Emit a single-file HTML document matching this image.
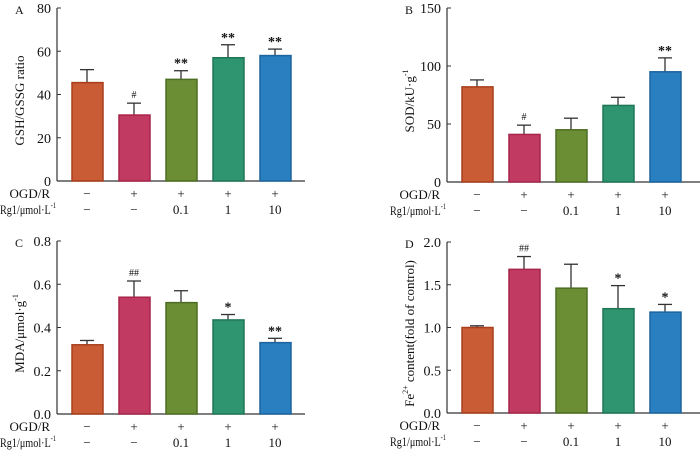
<!DOCTYPE html>
<html><head><meta charset="utf-8">
<style>
body{margin:0;background:#fff;}
svg text{font-family:"Liberation Serif",serif;fill:#111;}
</style></head>
<body>
<svg id="c" width="700" height="455" xmlns="http://www.w3.org/2000/svg"></svg>
<script>
const categories=["control","OGD/R","Rg1 0.1","Rg1 1","Rg1 10"];
const ogdLabels=["−","+","+","+","+"];
const rg1Labels=["−","−","0.1","1","10"];
const valuesA=[45.5,30.5,47,57,58];
const errorsA=[6,5.5,4,6,3];
const marksA=["","#","**","**","**"];
const ticksA=[0,20,40,60,80];
const valuesB=[82,41,45,66,95];
const errorsB=[6,8,10,7,12];
const marksB=["","#","","","**"];
const ticksB=[0,50,100,150];
const valuesC=[0.32,0.54,0.515,0.435,0.33];
const errorsC=[0.02,0.075,0.055,0.025,0.02];
const marksC=["","##","","*","**"];
const ticksC=["0.0","0.2","0.4","0.6","0.8"];
const valuesD=[1.0,1.68,1.46,1.22,1.18];
const errorsD=[0.02,0.15,0.28,0.27,0.09];
const marksD=["","##","","*","*"];
const ticksD=["0.0","0.5","1.0","1.5","2.0"];
const fills=["#c95c35","#c13a62","#6b8e35","#2f9571","#2a7fc0"];
const strokes=["#a83e1c","#a8244a","#4d6e22","#1f7656","#1d649e"];
const NS="http://www.w3.org/2000/svg";
const svg=document.getElementById('c');
function mk(tag,attrs,parent,txt){const e=document.createElementNS(NS,tag);for(const k in attrs)e.setAttribute(k,attrs[k]);if(txt!==undefined)e.textContent=txt;(parent||svg).appendChild(e);return e;}
function panel(o){
  const g=mk('g',{});
  
  
  const max=parseFloat(o.ticks[o.ticks.length-1]);
  const y=v=>o.y0-(v/max)*(o.y0-o.yTop);
  const x=i=>o.ax+30+i*47;
  const lt=mk('text',{x:o.ax-42,y:o.yTop+6,'font-size':12},g,o.id);
  
  
  const ya=mk('line',{x1:o.ax,y1:o.yTop,x2:o.ax,y2:o.y0,stroke:'#333','stroke-width':1.2},g);
  
  
  const xa=mk('line',{x1:o.ax,y1:o.y0,x2:o.xEnd,y2:o.y0,stroke:'#333','stroke-width':1.2},g);
  
  
  o.ticks.forEach(t=>{
    const yy=y(parseFloat(t));
    mk('line',{x1:o.ax,y1:yy,x2:o.ax+4,y2:yy,stroke:'#333'},g);
    const tl=mk('text',{x:o.ax-6,y:yy+5,'font-size':14,'text-anchor':'end'},g,t);
    
    
  });
  const tt=mk('text',{transform:`translate(${o.ax-33},${(o.yTop+o.y0)/2+6}) rotate(-90)`,'font-size':13,'text-anchor':'middle'},g);
  tt.innerHTML=o.title;
  
  
  o.values.forEach((v,i)=>{
    const cx=x(i),top=y(v),et=y(v+o.errors[i]);
    mk('line',{x1:cx,y1:top,x2:cx,y2:et,stroke:'#333','stroke-width':1.3},g);
    mk('line',{x1:cx-7,y1:et,x2:cx+7,y2:et,stroke:'#333','stroke-width':1.3},g);
    const r=mk('rect',{x:cx-15,y:top,width:31,height:o.y0-top,fill:fills[i],stroke:strokes[i],'stroke-width':1.5},g);
    
    
    if(o.marks[i]){
      const isHash=o.marks[i][0]==='#';
      const m=mk('text',{x:cx,y:et-(isHash?5:3),'font-size':isHash?10:14,'text-anchor':'middle','font-weight':isHash?'normal':'bold',fill:isHash?'#666':'#222'},g,o.marks[i]);
      
      
    }
    const a=mk('text',{x:cx,y:o.y0+17,'font-size':13,'text-anchor':'middle'},g,ogdLabels[i]);
    
    
    const b=mk('text',{x:cx,y:o.y0+33,'font-size':13,'text-anchor':'middle'},g,rg1Labels[i]);
    
    
  });
  const r1=mk('text',{x:o.ax-7,y:o.y0+17,'font-size':13,'text-anchor':'end'},g,'OGD/R');
  
  
  const r2=mk('text',{x:o.ax-57,y:o.y0+33,'font-size':13,textLength:56,lengthAdjust:'spacingAndGlyphs'},g);
  r2.innerHTML='Rg1/μmol·L<tspan dy="-6" font-size="8">-1</tspan>';
  
  
}
panel({id:'A',ax:57,yTop:8,y0:181,xEnd:305,values:valuesA,errors:errorsA,marks:marksA,ticks:ticksA,title:'GSH/GSSG ratio'});
panel({id:'B',ax:447,yTop:8,y0:182,xEnd:700,values:valuesB,errors:errorsB,marks:marksB,ticks:ticksB,title:'SOD/kU·g<tspan dy="-6" font-size="8">-1</tspan>'});
panel({id:'C',ax:57,yTop:241,y0:414,xEnd:305,values:valuesC,errors:errorsC,marks:marksC,ticks:ticksC,title:'MDA/μmol·g<tspan dy="-6" font-size="8">-1</tspan>'});
panel({id:'D',ax:447,yTop:242,y0:413,xEnd:700,values:valuesD,errors:errorsD,marks:marksD,ticks:ticksD,title:'Fe<tspan dy="-6" font-size="8">2+</tspan><tspan dy="6"> content(fold of control)</tspan>'});
</script>
</body></html>
